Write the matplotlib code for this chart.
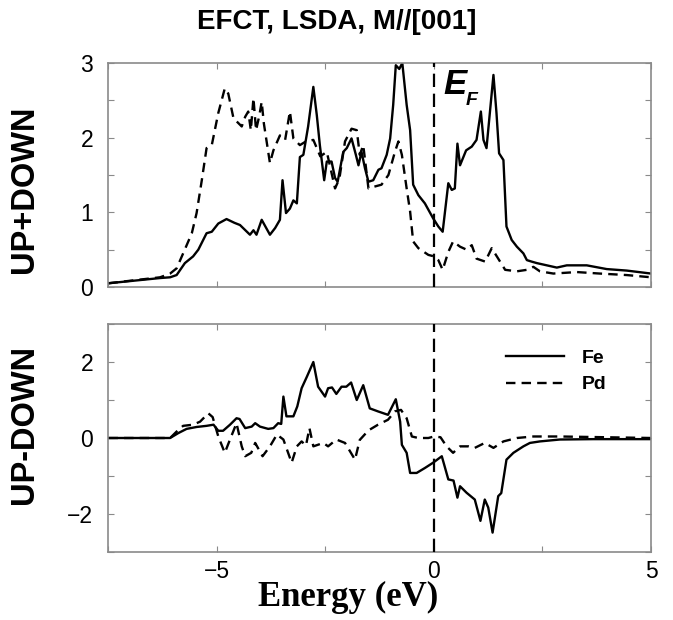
import matplotlib
matplotlib.use("Agg")
import matplotlib.pyplot as plt
from matplotlib.ticker import MultipleLocator

# ---- data ----
fe_sum_e = [-7.5, -6.31, -6.08, -5.93, -5.74, -5.55, -5.43, -5.24, -5.12, -4.97, -4.78, -4.6, -4.47, -4.24, -4.16,
            -4.09, -3.97, -3.78, -3.66, -3.55, -3.49, -3.41, -3.32, -3.24, -3.16, -3.09, -3.01, -2.90, -2.78, -2.70,
            -2.63, -2.53, -2.47, -2.36, -2.28, -2.22, -2.09, -2.01, -1.90, -1.80, -1.74, -1.67, -1.59, -1.51, -1.40,
            -1.28, -1.21, -1.09, -1.01, -0.94, -0.88, -0.80, -0.73, -0.63, -0.55, -0.48, -0.36, -0.21, -0.02, 0.10,
            0.20, 0.33, 0.41, 0.48, 0.54, 0.60, 0.74, 0.87, 0.98, 1.08, 1.14, 1.21, 1.37, 1.44, 1.50, 1.60,
            1.67, 1.79, 1.91, 2.06, 2.14, 2.25, 2.37, 2.60, 2.83, 3.06, 3.52, 3.98, 4.44, 5.0]
fe_sum = [0.05, 0.12, 0.13, 0.16, 0.32, 0.41, 0.50, 0.72, 0.74, 0.85, 0.91, 0.86, 0.83, 0.70, 0.76,
          0.70, 0.90, 0.70, 0.79, 0.90, 1.43, 0.99, 1.05, 1.16, 1.12, 1.74, 1.77, 2.15, 2.68, 2.30,
          1.90, 1.43, 1.68, 1.68, 1.46, 1.41, 1.81, 1.86, 1.99, 1.77, 1.63, 1.81, 1.59, 1.41, 1.43,
          1.57, 1.59, 1.77, 1.99, 2.44, 2.97, 2.92, 3.0, 2.44, 2.10, 1.37, 1.23, 1.12, 0.92, 0.81,
          0.74, 1.39, 1.30, 1.32, 1.92, 1.63, 1.83, 1.88, 1.97, 2.35, 1.97, 1.86, 2.84, 2.33, 1.79, 1.70,
          0.81, 0.63, 0.54, 0.45, 0.36, 0.34, 0.32, 0.29, 0.26, 0.29, 0.29, 0.24, 0.22, 0.18]

pd_sum_e = [-7.5, -6.31, -6.08, -5.93, -5.78, -5.58, -5.47, -5.35, -5.24, -5.12, -4.97, -4.82, -4.74, -4.62, -4.43,
            -4.35, -4.28, -4.22, -4.16, -4.10, -4.03, -3.97, -3.92, -3.78, -3.70, -3.55, -3.43, -3.32, -3.24, -3.09,
            -2.95, -2.78, -2.62, -2.47, -2.28, -2.18, -2.05, -1.90, -1.78, -1.71, -1.63, -1.51, -1.40, -1.21, -1.05,
            -0.90, -0.82, -0.74, -0.63, -0.55, -0.48, -0.36, -0.13, 0.0, 0.10, 0.20, 0.33, 0.44, 0.60, 0.75,
            0.87, 0.98, 1.18, 1.33, 1.48, 1.64, 1.91, 2.14, 2.29, 2.44, 2.75, 3.29, 3.82, 4.44, 5.0]
pd_sum = [0.05, 0.13, 0.18, 0.25, 0.45, 0.72, 0.99, 1.43, 1.86, 1.90, 2.33, 2.66, 2.59, 2.26, 2.15,
          2.28, 2.35, 2.10, 2.53, 2.10, 2.28, 2.48, 2.19, 1.66, 1.83, 2.03, 1.97, 2.35, 1.99, 1.90,
          1.95, 1.97, 1.75, 1.81, 1.32, 1.45, 1.95, 2.12, 2.10, 1.77, 1.90, 1.32, 1.34, 1.37, 1.50,
          1.81, 1.95, 1.77, 1.32, 1.01, 0.61, 0.52, 0.43, 0.41, 0.36, 0.23, 0.47, 0.61, 0.54, 0.50,
          0.56, 0.38, 0.34, 0.52, 0.38, 0.23, 0.21, 0.23, 0.27, 0.21, 0.18, 0.20, 0.18, 0.16, 0.13]

fe_diff_e = [-7.5, -6.08, -5.89, -5.70, -5.47, -5.24, -5.08, -4.97, -4.86, -4.70, -4.55, -4.48, -4.35, -4.20, -4.12,
             -4.01, -3.82, -3.70, -3.59, -3.52, -3.47, -3.40, -3.24, -3.15, -3.05, -2.93, -2.78, -2.67, -2.51, -2.44,
             -2.35, -2.25, -2.13, -2.02, -1.91, -1.78, -1.63, -1.48, -1.29, -1.06, -0.88, -0.78, -0.74, -0.63, -0.55,
             -0.40, -0.21, -0.02, 0.18, 0.33, 0.45, 0.54, 0.60, 0.75, 0.94, 1.07, 1.17, 1.25, 1.35, 1.48,
             1.55, 1.67, 1.83, 2.06, 2.21, 2.44, 2.90, 3.67, 5.0]
fe_diff = [0.0, 0.0, 0.13, 0.24, 0.29, 0.32, 0.35, 0.19, 0.19, 0.35, 0.52, 0.50, 0.26, 0.30, 0.39,
           0.30, 0.24, 0.26, 0.39, 0.37, 1.09, 0.57, 0.57, 0.83, 1.31, 1.61, 2.0, 1.35, 1.09, 1.31,
           1.33, 1.16, 1.35, 1.35, 1.46, 1.0, 1.39, 0.78, 0.70, 0.61, 1.02, 0.43, -0.18, -0.39, -0.92,
           -0.92, -0.79, -0.65, -0.48, -1.09, -1.12, -1.57, -1.27, -1.44, -1.62, -2.18, -1.62, -1.83, -2.49, -1.53,
           -1.45, -0.57, -0.39, -0.22, -0.13, -0.09, -0.04, -0.03, -0.03]

pd_diff_e = [-7.5, -6.08, -5.93, -5.78, -5.55, -5.39, -5.20, -5.10, -4.97, -4.82, -4.70, -4.55, -4.43, -4.35, -4.21,
             -4.12, -3.95, -3.78, -3.62, -3.47, -3.28, -3.16, -3.05, -2.95, -2.87, -2.78, -2.55, -2.44, -2.25, -2.05,
             -1.82, -1.71, -1.51, -1.29, -1.06, -0.90, -0.76, -0.63, -0.51, -0.36, -0.13, 0.0, 0.15, 0.29, 0.44,
             0.60, 0.80, 0.94, 1.17, 1.37, 1.60, 1.91, 2.29, 2.90, 5.0]
pd_diff = [0.0, 0.0, 0.17, 0.32, 0.35, 0.43, 0.65, 0.55, 0.04, -0.39, -0.04, 0.39, -0.22, -0.48, -0.39,
           -0.13, -0.48, -0.22, 0.09, -0.04, -0.65, -0.22, -0.09, -0.20, 0.26, -0.22, -0.13, -0.22, -0.04, -0.13,
           -0.57, -0.05, 0.20, 0.35, 0.48, 0.70, 0.74, 0.52, 0.04, 0.0, 0.0, 0.04, 0.02, -0.22, -0.39,
           -0.22, -0.22, -0.26, -0.13, -0.26, -0.09, 0.0, 0.04, 0.04, 0.0]

title = "EFCT, LSDA, M//[001]"
ylabel_top = "UP+DOWN"
ylabel_bot = "UP-DOWN"
xlabel = "Energy (eV)"
series_names = ["Fe", "Pd"]

# ---- figure ----
fig = plt.figure(figsize=(6.73, 6.20), dpi=100)
ax1 = fig.add_axes([0.1612, 0.5371, 0.8061, 0.3613])
ax2 = fig.add_axes([0.1612, 0.1097, 0.8061, 0.3677])

sans = "Liberation Sans"
lw = 1.7
dash = (0, (4.0, 2.6))
frame_col = "#8a8a8a"
tick_fs = 16.5

for ax in (ax1, ax2):
    ax.set_xlim(-7.5, 5)
    ax.tick_params(direction="in", top=True, right=True, length=4, width=0.8,
                   color=frame_col, labelsize=tick_fs)
    ax.tick_params(axis="y", pad=11)
    ax.tick_params(axis="x", pad=6)
    for s in ax.spines.values():
        s.set_color(frame_col)
        s.set_linewidth(1.2)
    ax.axvline(0, color="black", lw=1.6, ls=(0, (6, 3)), zorder=3)

# top panel
ax1.plot(fe_sum_e, fe_sum, color="black", lw=lw)
ax1.plot(pd_sum_e, pd_sum, color="black", lw=lw, ls=dash)
ax1.set_ylim(0, 3)
ax1.set_yticks([0, 0.5, 1, 1.5, 2, 2.5, 3])
ax1.set_yticklabels(["0", "", "1", "", "2", "", "3"], fontfamily=sans, fontsize=tick_fs)
ax1.set_xticks([-7.5, -5, -2.5, 0, 2.5, 5])
ax1.set_xticklabels([])
ax1.text(0.22, 2.58, "E", fontfamily=sans, fontweight="bold", fontstyle="italic",
         fontsize=25, ha="left", va="baseline")
ax1.text(0.72, 2.44, "F", fontfamily=sans, fontweight="bold", fontstyle="italic",
         fontsize=14, ha="left", va="baseline")

# bottom panel
h1, = ax2.plot(fe_diff_e, fe_diff, color="black", lw=lw, label=series_names[0])
h2, = ax2.plot(pd_diff_e, pd_diff, color="black", lw=lw, ls=dash, label=series_names[1])
ax2.set_ylim(-3, 3)
ax2.set_yticks([-3, -2, -1, 0, 1, 2, 3])
ax2.set_yticklabels(["", "\u22122", "", "0", "", "2", ""], fontfamily=sans, fontsize=tick_fs)
ax2.set_xticks([-7.5, -5, -2.5, 0, 2.5, 5])
ax2.set_xticklabels(["", "\u22125", "", "0", "", "5"], fontfamily=sans, fontsize=tick_fs)
leg = ax2.legend(handles=[h1, h2], loc="upper right", bbox_to_anchor=(0.95, 0.965),
                 frameon=False, handlelength=3.0, handletextpad=0.9, labelspacing=0.45,
                 prop={"family": sans, "weight": "bold", "size": 14})

# axis labels and title as figure text
fig.text(25 / 673, 1 - 189.5 / 620, ylabel_top, rotation=90, ha="center", va="center",
         fontfamily=sans, fontweight="bold", fontsize=23.5)
fig.text(25 / 673, 1 - 424 / 620, ylabel_bot, rotation=90, ha="center", va="center",
         fontfamily=sans, fontweight="bold", fontsize=23.5)
fig.text(348 / 673, 1 - 597 / 620, xlabel, ha="center", va="center",
         fontfamily="Liberation Serif", fontweight="bold", fontsize=25)
fig.text(0.5, 0.985, title, ha="center", va="top",
         fontfamily=sans, fontweight="bold", fontsize=20)

fig.savefig("out.png", dpi=100)
